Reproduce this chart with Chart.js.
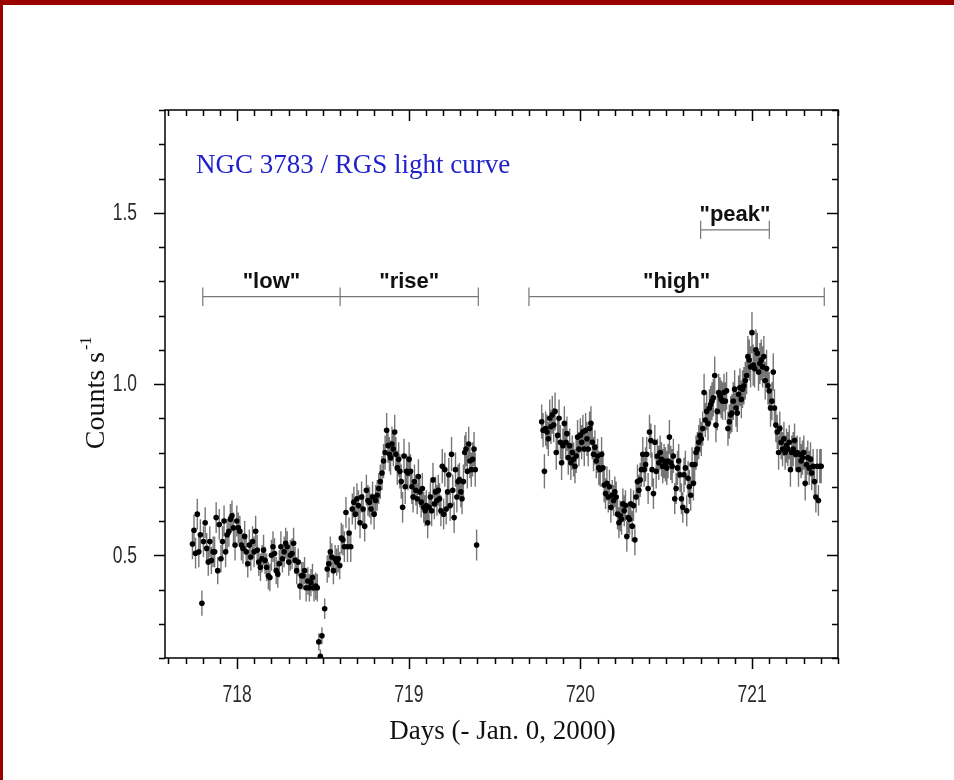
<!DOCTYPE html>
<html>
<head>
<meta charset="utf-8">
<title>NGC 3783 RGS light curve</title>
<script src="https://cdn.jsdelivr.net/npm/chart.js@4.4.1/dist/chart.umd.min.js"></script>
<style>
  html, body { margin: 0; padding: 0; background: #fff; }
  #wrap { position: relative; width: 954px; height: 780px; overflow: hidden; }
  #lc { position: absolute; left: 0; top: 0; }
  .edge { position: absolute; background: #990000; }
</style>
</head>
<body>
<div id="wrap">
  <canvas id="lc" width="954" height="780"></canvas>
  <div class="edge" style="left:0;top:0;width:954px;height:5px"></div>
  <div class="edge" style="left:0;top:0;width:3px;height:780px"></div>
</div>
<script>
// time of each bin (days - Jan. 0, 2000)
const days = [
  // first part of the observation
  717.740, 717.749, 717.758, 717.768, 717.777, 717.786, 717.795, 717.804, 717.814, 717.823,
  717.832, 717.841, 717.850, 717.860, 717.869, 717.878, 717.887, 717.896, 717.906, 717.915,
  717.924, 717.933, 717.942, 717.952, 717.961, 717.970, 717.979, 717.988, 717.998, 718.007,
  718.016, 718.025, 718.034, 718.044, 718.053, 718.062, 718.071, 718.080, 718.090, 718.099,
  718.108, 718.117, 718.126, 718.136, 718.145, 718.154, 718.163, 718.172, 718.182, 718.191,
  718.200, 718.209, 718.218, 718.228, 718.237, 718.246, 718.255, 718.264, 718.274, 718.283,
  718.292, 718.301, 718.310, 718.320, 718.329, 718.338, 718.347, 718.356, 718.366, 718.375,
  718.384, 718.393, 718.402, 718.412, 718.421, 718.430, 718.439, 718.448, 718.458, 718.467,
  718.476, 718.485, 718.494, 718.510,
  718.525, 718.534, 718.543, 718.552, 718.561, 718.571, 718.580, 718.589, 718.598, 718.607,
  718.616, 718.625, 718.634, 718.643, 718.652, 718.662, 718.671, 718.680, 718.689, 718.698,
  718.707, 718.716, 718.725, 718.734, 718.743, 718.753, 718.762, 718.771, 718.780, 718.789,
  718.798, 718.807, 718.816, 718.825, 718.834, 718.844, 718.853, 718.862, 718.871,
  718.879, 718.887, 718.894, 718.902, 718.910, 718.918, 718.925, 718.933, 718.941, 718.948,
  718.956, 718.964, 718.972, 718.979, 718.987, 718.995, 719.002, 719.010, 719.018, 719.025,
  719.033, 719.041, 719.049, 719.056, 719.064, 719.072, 719.079, 719.087, 719.095, 719.102,
  719.110, 719.118, 719.126, 719.133, 719.141, 719.149, 719.156, 719.164, 719.172, 719.179,
  719.187, 719.195, 719.203, 719.210, 719.218, 719.226, 719.233, 719.241, 719.249, 719.256,
  719.264, 719.272, 719.280, 719.287, 719.295, 719.303, 719.310, 719.318, 719.326, 719.333,
  719.341, 719.349, 719.356, 719.364, 719.372, 719.380, 719.387, 719.395,
  // second part
  719.774, 719.782, 719.790, 719.797, 719.805, 719.813, 719.821, 719.828, 719.836, 719.844,
  719.852, 719.859, 719.867, 719.875, 719.883, 719.890, 719.898, 719.906, 719.914, 719.921,
  719.929, 719.937, 719.944, 719.952, 719.960, 719.968, 719.975, 719.983, 719.991, 719.999,
  720.007, 720.014, 720.022, 720.030, 720.038, 720.045, 720.053, 720.061, 720.069, 720.076,
  720.084, 720.092, 720.100, 720.107, 720.115, 720.123, 720.131, 720.138, 720.146, 720.154,
  720.162, 720.169, 720.177, 720.185, 720.193, 720.200, 720.208, 720.216, 720.224, 720.231,
  720.239, 720.247, 720.255, 720.262, 720.270, 720.278, 720.286, 720.293, 720.301, 720.309,
  720.317, 720.324, 720.332, 720.340, 720.348, 720.355, 720.363, 720.371, 720.379, 720.386,
  720.394, 720.402, 720.410, 720.417, 720.425, 720.433, 720.441, 720.448, 720.456, 720.464,
  720.472, 720.479, 720.487, 720.495, 720.503, 720.510, 720.518, 720.526, 720.534, 720.541,
  720.549, 720.557, 720.565, 720.572, 720.580, 720.588, 720.596, 720.603, 720.611, 720.619,
  720.627, 720.634, 720.642, 720.650, 720.658, 720.665, 720.673, 720.681, 720.689, 720.696,
  720.704, 720.712, 720.720, 720.727, 720.735, 720.743, 720.751, 720.758, 720.766, 720.774,
  720.782, 720.789, 720.797, 720.805, 720.813, 720.820, 720.828, 720.836, 720.844, 720.851,
  720.859, 720.867, 720.875, 720.882, 720.890, 720.898, 720.906, 720.913, 720.921, 720.929,
  720.937, 720.944, 720.952, 720.960, 720.968, 720.975, 720.983, 720.991, 720.999, 721.006,
  721.014, 721.022, 721.030, 721.037, 721.045, 721.053, 721.061, 721.068, 721.076, 721.084,
  721.092, 721.099, 721.107, 721.115, 721.123, 721.130, 721.138, 721.146, 721.154, 721.161,
  721.169, 721.177, 721.185, 721.192, 721.200, 721.208, 721.216, 721.223, 721.231, 721.239,
  721.247, 721.254, 721.262, 721.270, 721.278, 721.285, 721.293, 721.301, 721.309, 721.316,
  721.324, 721.332, 721.340, 721.347, 721.355, 721.363, 721.371, 721.378, 721.386, 721.394,
  721.402
];

// count rate per bin (counts/s)
const rates = [
  .533, .573, .506, .620, .510, .560, .360, .540, .595, .520,
  .480, .540, .485, .510, .510, .610, .455, .590, .490, .540,
  .600, .510, .560, .570, .605, .615, .580, .530, .600, .580,
  .570, .530, .520, .555, .510, .475, .530, .495, .540, .510,
  .570, .515, .480, .465, .490, .515, .485, .465, .440, .435,
  .500, .525, .505, .455, .445, .475, .525, .490, .510, .535,
  .525, .480, .500, .505, .535, .485, .455, .480, .410, .440,
  .440, .455, .405, .425, .405, .420, .435, .405, .410, .405,
  .247, .205, .265, .344,
  .460, .475, .510, .495, .455, .490, .480, .490, .470, .550,
  .545, .525, .625, .525, .565, .525, .635, .655, .620, .665,
  .645, .595, .670, .635, .585, .690, .660, .655, .635, .670,
  .620, .660, .675, .695, .715, .740, .775, .800, .865, .820,
  .795, .785, .825, .810, .860, .795, .755, .780, .745, .715,
  .640, .790, .700, .745, .740, .780, .745, .700, .670, .715,
  .690, .665, .730, .685, .655, .695, .640, .630, .645, .595,
  .640, .670, .630, .720, .650, .685, .660, .690, .665, .630,
  .760, .620, .750, .635, .685, .735, .645, .795, .690, .610,
  .750, .670, .715, .720, .685, .665, .715, .800, .810, .745,
  .825, .775, .750, .780, .810, .750, .530,
  .890, .865, .745, .870, .860, .840, .900, .875, .910, .880,
  .920, .800, .850, .900, .830, .770, .820, .885, .830, .855,
  .785, .820, .770, .800, .780, .760, .790, .845, .810, .850,
  .830, .860, .810, .865, .840, .810, .870, .885, .830, .795,
  .815, .775, .790, .755, .750, .795, .755, .705, .680, .710,
  .670, .700, .640, .675, .660, .685, .670, .620, .595, .615,
  .605, .650, .630, .645, .555, .610, .605, .650, .585, .645,
  .545, .670, .715, .690, .720, .750, .795, .750, .765, .795,
  .695, .860, .835, .750, .680, .830, .745, .790, .770, .800,
  .780, .760, .775, .765, .755, .775, .845, .770, .760, .790,
  .665, .695, .755,
  .775, .735, .665, .640, .735, .755, .630, .725, .700, .675, .765, .710, .765,
  .800, .810, .830, .850, .840, .870, .975, .895, .920, .885,
  .930, .940, .950, .960, 1.025, .880, .920, .975, .965, .955,
  .950, .975, .950, .980, .870, .890, .910, .915, .950, .985,
  .930, .915, .970, .990, .955, .985, .995, 1.010, 1.025, 1.080,
  1.070, 1.050, 1.150, 1.055, 1.045, 1.100, 1.090, 1.035, 1.060, 1.070,
  1.050, 1.080, 1.010, 1.045, .995, .980, .930, .950, 1.035, .930,
  .880, .860, .800, .870, .830, .810, .840, .800, .820, .810,
  .830, .750, .800, .810, .835, .795, .800, .750, .795, .775,
  .785, .800, .710, .765, .785, .755, .780, .740, .760, .715,
  .670, .760, .660, .760, .760
];

// 1-sigma error per bin
const errs = [
  .045, .045, .045, .045, .045, .045, .037, .045, .045, .045,
  .040, .045, .040, .045, .045, .045, .040, .045, .040, .045,
  .045, .045, .045, .045, .045, .045, .045, .045, .045, .045,
  .045, .045, .045, .045, .045, .040, .045, .040, .045, .045,
  .045, .045, .040, .040, .040, .045, .040, .040, .040, .040,
  .045, .045, .045, .040, .040, .040, .045, .040, .045, .045,
  .045, .040, .045, .045, .045, .040, .040, .040, .040, .040,
  .040, .040, .040, .040, .040, .040, .040, .040, .040, .040,
  .025, .020, .025, .030,
  .040, .040, .045, .040, .040, .040, .040, .040, .040, .045,
  .045, .045, .045, .045, .045, .045, .045, .045, .045, .045,
  .045, .045, .045, .045, .045, .045, .045, .045, .045, .045,
  .045, .045, .045, .045, .050, .050, .050, .050, .050, .050,
  .050, .050, .050, .050, .050, .050, .050, .050, .050, .050,
  .045, .050, .050, .050, .050, .050, .050, .050, .045, .050,
  .045, .045, .050, .045, .045, .045, .045, .045, .045, .045,
  .045, .045, .045, .050, .045, .045, .045, .045, .045, .045,
  .050, .045, .050, .045, .045, .050, .045, .050, .045, .045,
  .050, .045, .050, .050, .045, .045, .050, .050, .050, .050,
  .050, .050, .050, .050, .050, .050, .045,
  .050, .050, .050, .050, .050, .050, .055, .050, .055, .050,
  .055, .050, .050, .055, .050, .050, .050, .050, .050, .050,
  .050, .050, .050, .050, .050, .050, .050, .050, .050, .050,
  .050, .050, .050, .050, .050, .050, .050, .050, .050, .050,
  .050, .050, .050, .050, .050, .050, .050, .050, .045, .050,
  .045, .050, .045, .045, .045, .045, .045, .045, .045, .045,
  .045, .045, .045, .045, .045, .045, .045, .045, .045, .045,
  .045, .045, .050, .045, .050, .050, .050, .050, .050, .050,
  .045, .050, .050, .050, .045, .050, .050, .050, .050, .050,
  .050, .050, .050, .050, .050, .050, .050, .050, .050, .050,
  .045, .045, .050,
  .050, .050, .045, .045, .050, .050, .045, .050, .050, .045, .050, .050, .050,
  .050, .050, .050, .050, .050, .050, .055, .050, .055, .050,
  .055, .055, .055, .055, .055, .050, .055, .055, .055, .055,
  .055, .055, .055, .055, .050, .050, .055, .055, .055, .055,
  .055, .055, .055, .055, .055, .055, .055, .055, .055, .060,
  .060, .060, .060, .060, .055, .060, .060, .055, .060, .060,
  .060, .060, .055, .055, .055, .055, .055, .055, .055, .055,
  .050, .050, .050, .050, .050, .050, .050, .050, .050, .050,
  .050, .050, .050, .050, .050, .050, .050, .050, .050, .050,
  .050, .050, .050, .050, .050, .050, .050, .050, .050, .050,
  .045, .050, .045, .050, .050
];

// flux states marked above the curve
const phaseNames = ['"low"', '"rise"', '"high"', '"peak"'];
const phaseStart = [717.80, 718.60, 719.70, 720.70];
const phaseEnd   = [718.60, 719.405, 721.42, 721.10];
const phaseLevel = [1.255, 1.255, 1.255, 1.45];
const capHalf = 0.027;

const xMajor = [718, 719, 720, 721];
const yMajor = [0.5, 1.0, 1.5];

const serif = '"Liberation Serif", "Times New Roman", serif';
const sans = '"Liberation Sans", Arial, sans-serif';

// points
const pts = days.map((d, i) => ({ x: d, y: rates[i] }));

// error bars: one short segment per bin, broken by nulls
const bars = [];
days.forEach((d, i) => {
  bars.push({ x: d, y: rates[i] - errs[i] }, { x: d, y: rates[i] + errs[i] }, { x: d, y: null });
});

// brackets with end caps
const brackets = [];
phaseNames.forEach((n, i) => {
  const a = phaseStart[i], b = phaseEnd[i], lv = phaseLevel[i];
  brackets.push({ x: a, y: lv - capHalf }, { x: a, y: lv + capHalf }, { x: a, y: null });
  brackets.push({ x: a, y: lv }, { x: b, y: lv }, { x: b, y: null });
  brackets.push({ x: b, y: lv - capHalf }, { x: b, y: lv + capHalf }, { x: b, y: null });
});

const isMaj = (v, list) => list.some(m => Math.abs(m - v) < 1e-6);

// narrow tick numbers: squeeze the sans face horizontally
function narrowText(ctx, txt, x, y, align) {
  ctx.save();
  ctx.translate(x, y);
  ctx.scale(0.76, 1);
  ctx.textAlign = align;
  ctx.fillText(txt, 0, 0);
  ctx.restore();
}

const decor = {
  id: 'decor',
  afterDraw(chart) {
    const { ctx, chartArea: a, scales: { x, y } } = chart;
    ctx.save();

    // frame + ticks (out on bottom/left, in on top/right)
    ctx.strokeStyle = '#000';
    ctx.lineWidth = 1.5;
    ctx.strokeRect(a.left, a.top, a.right - a.left, a.bottom - a.top);
    ctx.beginPath();
    x.ticks.forEach(t => {
      const px = Math.round(x.getPixelForValue(t.value)) + 0.5;
      const len = isMaj(t.value, xMajor) ? 11 : 6;
      ctx.moveTo(px, a.bottom); ctx.lineTo(px, a.bottom + len);
      ctx.moveTo(px, a.top); ctx.lineTo(px, a.top + len);
    });
    y.ticks.forEach(t => {
      const py = Math.round(y.getPixelForValue(t.value)) + 0.5;
      const len = isMaj(t.value, yMajor) ? 11 : 6;
      ctx.moveTo(a.left, py); ctx.lineTo(a.left - len, py);
      ctx.moveTo(a.right, py); ctx.lineTo(a.right - len, py);
    });
    ctx.stroke();

    // tick numbers
    ctx.fillStyle = '#2a2a2a';
    ctx.font = '23px ' + sans;
    ctx.textBaseline = 'middle';
    xMajor.forEach(v => narrowText(ctx, String(v), x.getPixelForValue(v), a.bottom + 38, 'center'));
    yMajor.forEach(v => narrowText(ctx, v.toFixed(1), a.left - 28, y.getPixelForValue(v) + 1, 'right'));

    // phase labels
    ctx.fillStyle = '#111';
    ctx.font = 'bold 22px ' + sans;
    ctx.textAlign = 'center';
    phaseNames.forEach((n, i) => {
      const cx = x.getPixelForValue((phaseStart[i] + phaseEnd[i]) / 2);
      const cy = y.getPixelForValue(phaseLevel[i]) - 15;
      ctx.fillText(n, cx, cy);
    });

    // caption inside the frame
    ctx.fillStyle = '#2222cc';
    ctx.font = '27px ' + serif;
    ctx.textAlign = 'left';
    ctx.textBaseline = 'alphabetic';
    ctx.fillText('NGC 3783 / RGS light curve', a.left + 31, 173);

    // x title
    ctx.fillStyle = '#111';
    ctx.textAlign = 'center';
    ctx.fillText('Days (- Jan. 0, 2000)', (a.left + a.right) / 2 + 1, 739);

    // y title with superscript
    ctx.translate(104, 394);
    ctx.rotate(-Math.PI / 2);
    ctx.textAlign = 'left';
    ctx.font = '28px ' + serif;
    const main = 'Counts s';
    const w1 = ctx.measureText(main).width;
    ctx.font = '16px ' + serif;
    const w2 = ctx.measureText('-1').width;
    const s0 = -(w1 + w2) / 2;
    ctx.font = '28px ' + serif;
    ctx.fillText(main, s0, 0);
    ctx.font = '16px ' + serif;
    ctx.fillText('-1', s0 + w1 + 2, -13);

    ctx.restore();
  }
};

new Chart(document.getElementById('lc'), {
  type: 'scatter',
  data: {
    datasets: [
      {
        data: pts,
        pointRadius: 2.8,
        pointBackgroundColor: '#000',
        pointBorderWidth: 0,
        showLine: false
      },
      {
        data: bars,
        showLine: true,
        spanGaps: false,
        pointRadius: 0,
        borderColor: '#767676',
        borderWidth: 1.4
      },
      {
        data: brackets,
        showLine: true,
        spanGaps: false,
        pointRadius: 0,
        borderColor: '#777',
        borderWidth: 1.2
      }
    ]
  },
  options: {
    responsive: false,
    animation: false,
    devicePixelRatio: 1,
    layout: { padding: { left: 0, top: 110, right: 116, bottom: 0 } },
    plugins: { legend: { display: false }, tooltip: { enabled: false } },
    scales: {
      x: {
        type: 'linear',
        min: 717.58,
        max: 721.5,
        afterBuildTicks: s => {
          s.ticks = [];
          for (let k = 7176; k <= 7215; k++) s.ticks.push({ value: k / 10 });
        },
        afterFit: s => { s.height = 122; },
        grid: { display: false, drawTicks: false },
        border: { display: false },
        ticks: { display: false }
      },
      y: {
        type: 'linear',
        min: 0.2,
        max: 1.8,
        afterBuildTicks: s => {
          s.ticks = [];
          for (let k = 2; k <= 18; k++) s.ticks.push({ value: k / 10 });
        },
        afterFit: s => { s.width = 165; },
        grid: { display: false, drawTicks: false },
        border: { display: false },
        ticks: { display: false }
      }
    }
  },
  plugins: [decor]
});
</script>
</body>
</html>
